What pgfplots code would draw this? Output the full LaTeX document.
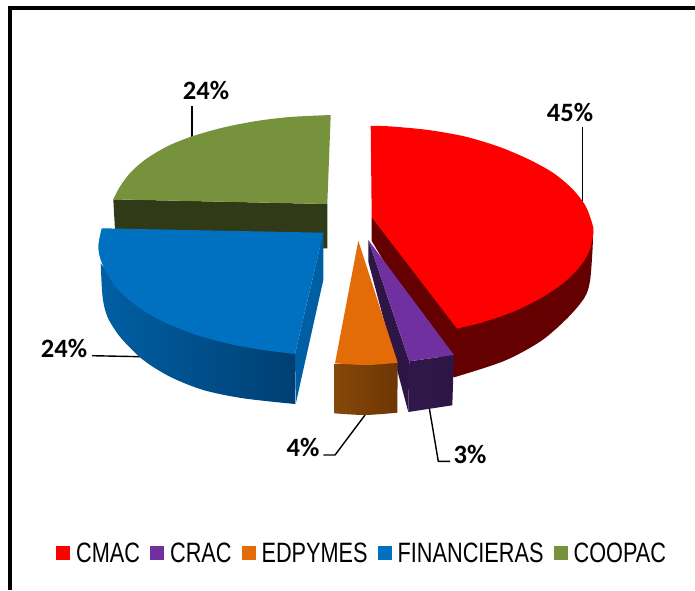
\documentclass[border=0pt]{standalone}
\usepackage{pgfplots}
\usepackage{fontspec}
\pgfplotsset{compat=1.18}
\setmainfont{Carlito}
\newfontfamily\legfont[FakeStretch=0.775]{Liberation Sans}
\definecolor{cmac}{HTML}{FF0000}
\definecolor{cmacs}{HTML}{640000}
\definecolor{crac}{HTML}{7030A0}
\definecolor{cracs}{HTML}{2D1645}
\definecolor{edp}{HTML}{E36C09}
\definecolor{edpl}{HTML}{854808}
\definecolor{edpr}{HTML}{6E3605}
\definecolor{fin}{HTML}{0070C0}
\definecolor{finw}{HTML}{005FA3}
\definecolor{find}{HTML}{003F73}
\definecolor{coop}{HTML}{76923C}
\definecolor{coops}{HTML}{313A17}
\begin{document}
\begin{tikzpicture}
\path[use as bounding box] (0,0) rectangle (695pt,590pt);
\begin{axis}[
  at={(0,0)}, anchor=south west,
  scale only axis, width=695pt, height=590pt,
  xmin=0, xmax=695, ymin=0, ymax=590, y dir=reverse,
  axis lines=none, clip=false, no markers,
  legend image code/.code={\fill[#1,draw=none] (0pt,-7pt) rectangle (14pt,7pt);},
  legend columns=5,
  legend cell align=left,
  legend style={at={(axis cs:56,553)}, anchor=west, draw=none, fill=none, inner sep=0pt,
    font=\legfont\fontsize{28}{28}\selectfont,
    nodes={inner xsep=0pt, inner ysep=0pt},
    /tikz/every even column/.append style={column sep=10pt},
    /tikz/every odd column/.append style={column sep=6pt}},
  every axis plot/.append style={forget plot},
]
\addlegendimage{fill=cmac}\addlegendentry{CMAC}
\addlegendimage{fill=crac}\addlegendentry{CRAC}
\addlegendimage{fill=edp}\addlegendentry{EDPYMES}
\addlegendimage{fill=fin}\addlegendentry{FINANCIERAS}
\addlegendimage{fill=coop}\addlegendentry{COOPAC}

% frame
\addplot[black, line width=4pt] coordinates {(10.3,590) (10.3,8) (695,8)};

% leaders
\addplot[black, line width=1.4pt] coordinates {(582.5,127) (582.5,201)};
\addplot[black, line width=1.6pt] coordinates {(191.7,106) (191.7,138)};
\addplot[black, line width=1.4pt] coordinates {(92,355.7) (141,356.7)};
\addplot[black, line width=1.4pt] coordinates {(323.3,455) (335,455) (365,415)};
\addplot[black, line width=1.4pt] coordinates {(429.3,408) (438.3,461.3) (450,461.3)};

% COOPAC
\addplot[fill=coops, draw=none] coordinates {(113.3,199.3) (327.3,204) (327.3,248.3) (116,248.3)} --cycle;
\addplot[smooth, fill=coop, draw=none] coordinates {(113.3,199.3) (120,186.5) (131,172) (146.7,158.5) (168,146) (191.7,136.5) (223.3,127.5) (256.7,121) (290,117) (330.7,115)} -- (axis cs:327.3,204) -- cycle;

% FINANCIERAS
\addplot[fill=finw, draw=none] coordinates {(323.3,232.7) (323.3,280) (295.7,404) (295,354)} --cycle;
\addplot[smooth, draw=none, left color=finw, right color=find] coordinates {(100.7,263.3) (102.7,298) (108,318) (121,338) (143.3,360) (170,376.7) (203.3,390) (243.3,398.3) (295,404)} -- (axis cs:295,354) -- (axis cs:130,300) -- cycle;
\addplot[smooth, fill=fin, draw=none] coordinates {(295,354) (263.3,350) (230,344) (196.7,335) (163.3,321.7) (136.7,306) (115,286) (102,263.3) (98.3,246.7) (101.7,228.3)} -- (axis cs:323.3,232.7) -- cycle;

% CMAC
\addplot[smooth, fill=cmacs, draw=none] coordinates {(593,232) (592.5,250) (590,281) (584.5,297.6) (567.7,317.8) (541,341) (504,361) (453.8,377.4)} -- (axis cs:371.7,241) -- (axis cs:371.7,217) -- cycle;
\addplot[smooth, fill=cmac, draw=none] coordinates {(370.7,125.8) (390.3,126.4) (428.5,130) (464.8,136.5) (498.3,146.5) (528,159) (552.9,172.7) (572.2,188.7) (585.4,205.6) (592,222.8) (593.5,232) (589.6,250.4) (579.6,267) (563.3,283) (541,298) (513.7,311.5) (482,322.5) (457,328.5)} -- (axis cs:371.7,217.3) -- cycle;

% CRAC
\addplot[fill=cracs, draw=none] coordinates {(368.3,240) (368.3,261.7) (408.3,412) (409.3,361.3)} --cycle;
\addplot[draw=none, left color=cracs!95!crac, right color=cracs] coordinates {(409.3,361.3) (454,355) (452.3,405.3) (408.3,412)} --cycle;
\addplot[fill=crac, draw=none] coordinates {(368.3,240) (454,355) (409.3,361.3)} --cycle;

% EDPYMES
\addplot[smooth, draw=none, left color=edpl, right color=edpr] coordinates {(334.3,413.3) (365,415) (397.3,412.7)} -- (axis cs:397.7,362.7) -- (axis cs:334.3,364) -- cycle;
\addplot[smooth, fill=edp, draw=none] coordinates {(335,363.3) (366.7,365) (397.7,362.7)} -- (axis cs:358.3,240.7) -- cycle;

% labels
\node[font=\bfseries\fontsize{26.5}{26.5}\selectfont] at (axis cs:570,112) {45\%};
\node[font=\bfseries\fontsize{26.5}{26.5}\selectfont] at (axis cs:206,90) {24\%};
\node[font=\bfseries\fontsize{26.5}{26.5}\selectfont] at (axis cs:64,348) {24\%};
\node[font=\bfseries\fontsize{26.5}{26.5}\selectfont] at (axis cs:303,447) {4\%};
\node[font=\bfseries\fontsize{26.5}{26.5}\selectfont] at (axis cs:470,454) {3\%};
\end{axis}
\end{tikzpicture}
\end{document}
